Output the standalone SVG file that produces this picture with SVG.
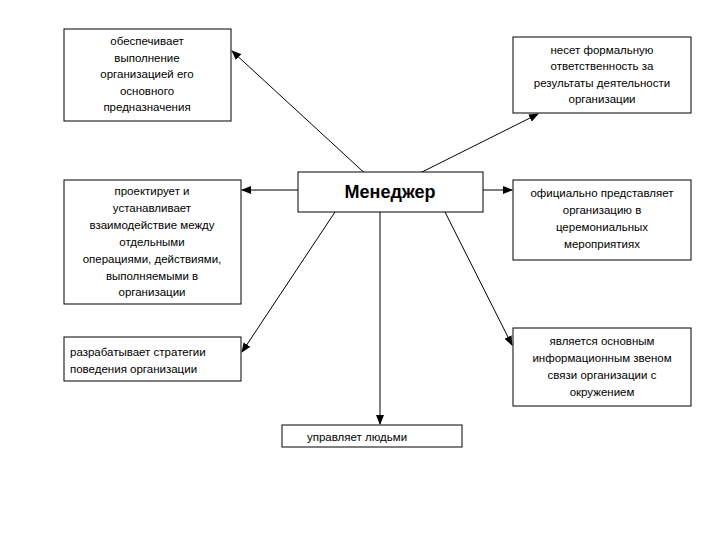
<svg xmlns="http://www.w3.org/2000/svg" width="720" height="540" viewBox="0 0 720 540">
<style>
rect{fill:#fff;stroke:#000;stroke-width:1}
text{font-family:"Liberation Sans",Arial,sans-serif;font-size:11.5px;text-anchor:middle;fill:#000}
.t{font-size:18px;font-weight:bold}
.l{text-anchor:start}
line{stroke:#000;stroke-width:1;marker-end:url(#a)}
</style>
<defs><marker id="a" markerWidth="10" markerHeight="8" refX="9" refY="4" orient="auto" markerUnits="userSpaceOnUse"><path d="M0,0L10,4L0,8z" fill="#000"/></marker></defs>
<rect width="720" height="540" style="stroke:none"/>
<g id="connectors">
<line x1="370" y1="178" x2="232" y2="51"/>
<line x1="410" y1="178" x2="538" y2="114"/>
<line x1="298" y1="190" x2="242" y2="190"/>
<line x1="483" y1="190" x2="512" y2="190"/>
<line x1="335" y1="212" x2="242" y2="352"/>
<line x1="445" y1="212" x2="512" y2="345"/>
<line x1="380" y1="212" x2="380" y2="424"/>
</g>
<g id="n1"><rect x="64" y="29" width="167" height="92"/><text x="147" y="45">обеспечивает</text><text x="147" y="62">выполнение</text><text x="147" y="78">организацией его</text><text x="147" y="95">основного</text><text x="147" y="111">предназначения</text></g>
<g id="n2"><rect x="513" y="37" width="178" height="76"/><text x="602" y="54">несет формальную</text><text x="602" y="70">ответственность за</text><text x="602" y="87">результаты деятельности</text><text x="602" y="103">организации</text></g>
<g id="n3"><rect x="298" y="172" width="185" height="40"/><text class="t" x="390" y="198">Менеджер</text></g>
<g id="n4"><rect x="64" y="180" width="177" height="124"/><text x="152" y="195">проектирует и</text><text x="152" y="212">устанавливает</text><text x="152" y="229">взаимодействие между</text><text x="152" y="246">отдельными</text><text x="152" y="263">операциями, действиями,</text><text x="152" y="280">выполняемыми в</text><text x="152" y="296">организации</text></g>
<g id="n5"><rect x="513" y="180" width="178" height="80"/><text x="602" y="197">официально представляет</text><text x="602" y="214">организацию в</text><text x="602" y="231">церемониальных</text><text x="602" y="248">мероприятиях</text></g>
<g id="n6"><rect x="64" y="337" width="177" height="44"/><text class="l" x="70" y="356">разрабатывает стратегии</text><text class="l" x="70" y="373">поведения организации</text></g>
<g id="n7"><rect x="513" y="328" width="178" height="78"/><text x="602" y="345">является основным</text><text x="602" y="362">информационным звеном</text><text x="602" y="379">связи организации с</text><text x="602" y="396">окружением</text></g>
<g id="n8"><rect x="282" y="425" width="180" height="22"/><text x="357" y="441">управляет людьми</text></g>
</svg>
